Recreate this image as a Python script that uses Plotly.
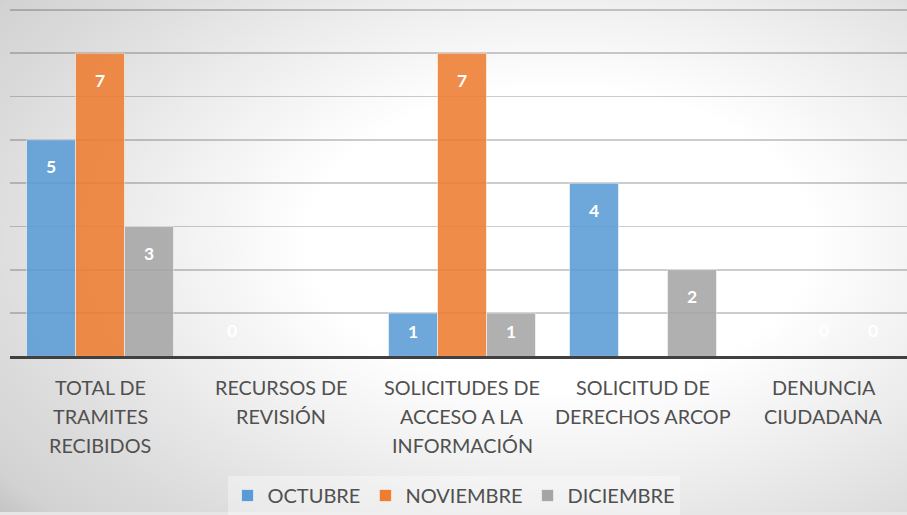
import plotly.graph_objects as go

# ---------------- data ----------------
categories = ["TOTAL DE TRAMITES RECIBIDOS", "RECURSOS DE REVISIÓN",
              "SOLICITUDES DE ACCESO A LA INFORMACIÓN",
              "SOLICITUD DE DERECHOS ARCOP", "DENUNCIA CIUDADANA"]
category_lines = [["TOTAL DE", "TRAMITES", "RECIBIDOS"],
                  ["RECURSOS DE", "REVISIÓN"],
                  ["SOLICITUDES DE", "ACCESO A LA", "INFORMACIÓN"],
                  ["SOLICITUD DE", "DERECHOS ARCOP"],
                  ["DENUNCIA", "CIUDADANA"]]
series_names = ["OCTUBRE", "NOVIEMBRE", "DICIEMBRE"]
octubre = [5, 0, 1, 4, 0]
noviembre = [7, None, 7, None, 0]
diciembre = [3, None, 1, 2, 0]
series_values = [octubre, noviembre, diciembre]
colors = ["#5B9BD5", "#ED7D31", "#A5A5A5"]

W, H = 907, 515
FONT = "Lato, 'Open Sans', sans-serif"

fig = go.Figure()

# ---------------- radial background (decorative) ----------------
cx, cy, rx, ry = 560, H - 240, 720, 430
fig.add_trace(go.Scatter(
    x=[cx - rx, cx + rx, cx + rx, cx - rx, cx - rx],
    y=[cy - ry, cy - ry, cy + ry, cy + ry, cy - ry],
    mode="lines", fill="toself", line=dict(width=0),
    fillgradient=dict(type="radial",
                      colorscale=[[0, "#ffffff"], [0.35, "#ffffff"], [0.6, "#ececec"],
                                  [0.8, "#dcdcdc"], [0.95, "#d2d2d2"], [1, "#c6c6c6"]]),
    xaxis="x", yaxis="y", showlegend=False, hoverinfo="skip"))

# ---------------- bars ----------------
for name, vals, col in zip(series_names, series_values, colors):
    fig.add_trace(go.Bar(
        x=categories, y=vals, name=name, xaxis="x2", yaxis="y2",
        marker=dict(color=col, opacity=0.88,
                    line=dict(color="rgba(255,255,255,0.55)", width=1)),
        hoverinfo="skip"))

# ---------------- data labels ----------------
GROUP_PX = 181
BARGAP = 0.188
bar_px = GROUP_PX * (1 - BARGAP) / 3
unit_px = 43.5
annotations = []
for si, vals in enumerate(series_values):
    for ci, v in enumerate(vals):
        if v is None:
            continue
        shift = 26 if v == 0 else -min(27, 0.42 * v * unit_px)
        annotations.append(dict(
            x=categories[ci], y=v, xref="x2", yref="y2",
            xshift=(si - 1) * bar_px, yshift=shift, showarrow=False,
            text=str(v), font=dict(family=FONT, size=17.5, color="white", weight="bold"),
            xanchor="center", yanchor="middle"))

# ---------------- category labels ----------------
first_line_px = 389
line_px = 29.5
for ci, lines in enumerate(category_lines):
    for li, t in enumerate(lines):
        annotations.append(dict(
            x=categories[ci], xref="x2", yref="paper",
            y=1 - (first_line_px + li * line_px) / H, showarrow=False,
            text=t, font=dict(family=FONT, size=19.8, color="#505050"),
            xanchor="center", yanchor="middle"))

fig.update_layout(
    width=W, height=H,
    margin=dict(l=0, r=0, t=0, b=0),
    paper_bgcolor="#e6e6e6", plot_bgcolor="rgba(0,0,0,0)",
    barmode="group", bargap=BARGAP, bargroupgap=0,
    font=dict(family=FONT, color="#505050", size=18),
    xaxis=dict(domain=[0, 1], range=[0, W], visible=False, fixedrange=True),
    yaxis=dict(domain=[0, 1], range=[0, H], visible=False, fixedrange=True),
    xaxis2=dict(domain=[9.5 / W, 1], range=[-0.5, 4.4586], anchor="y2",
                showticklabels=False, showgrid=False, zeroline=False,
                showline=True, linecolor="#404040", linewidth=3, ticks="",
                fixedrange=True),
    yaxis2=dict(domain=[1 - 358.5 / H, 1 - 7.8 / H], range=[0, 8.05], anchor="x2",
                dtick=1, tick0=0, showticklabels=False, zeroline=False,
                showgrid=True, gridcolor="rgba(0,0,0,0.2)", gridwidth=1.5, ticks="",
                fixedrange=True),
    legend=dict(orientation="h", x=0.5, xanchor="center", y=1 - 479 / H, yanchor="top",
                bgcolor="rgba(255,255,255,0.35)", font=dict(size=20, color="#505050"),
                itemclick=False, itemdoubleclick=False),
    annotations=annotations,
    showlegend=True,
)

fig.write_html("out.html", config={"displayModeBar": False, "staticPlot": True},
               post_script="document.body.style.margin='0';document.body.style.overflow='hidden';")
